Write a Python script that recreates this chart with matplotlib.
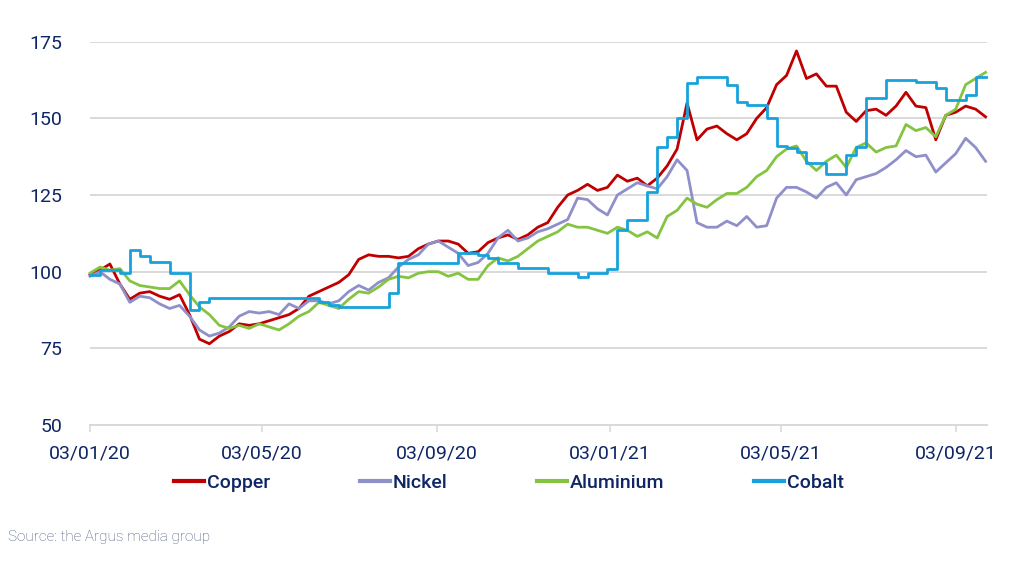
import numpy as np
import pandas as pd
import matplotlib
matplotlib.use("Agg")
import matplotlib.pyplot as plt
import matplotlib.dates as mdates

# ---- data (weekly readings, index 2020-01-03 = 100) ----
dates = pd.date_range("2020-01-03", periods=91, freq="7D")

copper = [99, 100.5, 102.5, 96, 91, 93, 93.5, 92, 91, 92.5,
          86, 78, 76.5, 79, 80.5, 83, 82.5, 83, 84, 85,
          86, 88, 92, 93.5, 95, 96.5, 99, 104, 105.5, 105,
          105, 104.5, 105, 107.5, 109, 110, 110, 109, 106, 106.5,
          109.5, 111, 112, 110.5, 112, 114.5, 116, 121, 125, 126.5,
          128.5, 126.5, 127.5, 131.5, 129.5, 130.5, 128, 130.5, 134.5, 140,
          155, 143, 146.5, 147.5, 145, 143, 145, 150, 153.5, 161,
          164, 172, 163, 164.5, 160.5, 160.5, 152, 149, 152.5, 153,
          151, 154, 158.5, 154, 153.5, 143, 151, 152, 154, 153,
          150.5]

nickel = [98.5, 100, 97.5, 96, 90, 92, 91.5, 89.5, 88, 89,
          85.5, 81, 79, 80, 82, 85.5, 87, 86.5, 87, 86,
          89.5, 88, 90.5, 90.5, 89.5, 90.5, 93.5, 95.5, 94, 96.5,
          98, 101.5, 104, 105.5, 109, 110, 108, 106, 102, 103,
          106, 111, 113.5, 110, 111, 113, 114, 115.5, 117, 124,
          123.5, 120.5, 118.5, 125, 127, 129, 128, 127, 131, 136.5,
          133, 116, 114.5, 114.5, 116.5, 115, 118, 114.5, 115, 124,
          127.5, 127.5, 126, 124, 127.5, 129, 125, 130, 131, 132,
          134, 136.5, 139.5, 137.5, 138, 132.5, 135.5, 138.5, 143.5, 140.5,
          136]

aluminium = [99.5, 101.5, 100.5, 101, 97, 95.5, 95, 94.5, 94.5, 97,
             92.5, 88.5, 86, 82.5, 81.5, 82.5, 81.5, 83, 82, 81,
             83, 85.5, 87, 90, 89, 88, 91, 93.5, 93, 95,
             97.5, 98.5, 98, 99.5, 100, 100, 98.5, 99.5, 97.5, 97.5,
             102, 104.5, 103.5, 105, 107.5, 110, 111.5, 113, 115.5, 114.5,
             114.5, 113.5, 112.5, 114.5, 113.5, 111.5, 113, 111, 118, 120,
             124, 122, 121, 123.5, 125.5, 125.5, 127.5, 131, 133, 137.5,
             140, 141, 136, 133, 136, 138, 134, 140.5, 142, 139,
             140.5, 141, 148, 146, 147, 144, 151, 153, 161, 163,
             165]

cobalt = [99, 100.5, 100.5, 99.5, 107, 105, 103, 103, 99.5, 99.5,
          87.5, 90, 91.4, 91.4, 91.4, 91.4, 91.4, 91.4, 91.4, 91.4,
          91.4, 91.4, 91.4, 90, 89, 88.5, 88.5, 88.5, 88.5, 88.5,
          93, 102.8, 102.8, 102.8, 102.8, 102.8, 102.8, 106, 106, 105.5,
          104.5, 102.8, 102.8, 101.2, 101.2, 101.2, 99.5, 99.5, 99.5, 98.4,
          99.5, 99.5, 101, 113.6, 117, 117, 126, 140.5, 144, 150,
          161.4, 163.6, 163.6, 163.6, 161, 155.4, 154.4, 154.4, 150, 141,
          140.3, 139, 135.4, 135.4, 132, 132, 138, 140.8, 156.6, 156.6,
          162.5, 162.5, 162.5, 162, 162, 160, 156, 156, 157.6, 163.6,
          163.6]

series_names = ["Copper", "Nickel", "Aluminium", "Cobalt"]
series_colors = ["#c00000", "#8f8fca", "#84c441", "#17a2dc"]

tick_dates = pd.to_datetime(["2020-01-03", "2020-05-03", "2020-09-03",
                             "2021-01-03", "2021-05-03", "2021-09-03"])
y_ticks = [50, 75, 100, 125, 150, 175]

# ---- figure ----
plt.rcParams["font.family"] = ["Roboto", "DejaVu Sans"]
navy = "#0f2665"

fig = plt.figure(figsize=(10.24, 5.66), dpi=100)
ax = fig.add_axes([90 / 1024, 1 - 425 / 566, 897 / 1024, (425 - 41.7) / 566])

values = [copper, nickel, aluminium, cobalt]
for name, vals, col in zip(series_names, values, series_colors):
    style = "steps-post" if name == "Cobalt" else "default"
    ax.plot(dates, vals, color=col, lw=2.0, label=name, drawstyle=style,
            solid_joinstyle="round", clip_on=False, zorder=3)

ax.set_ylim(50, 175)
ax.set_xlim(pd.Timestamp("2020-01-03"), pd.Timestamp("2021-09-25"))
ax.set_yticks(y_ticks)
ax.set_xticks(tick_dates)
ax.xaxis.set_major_formatter(mdates.DateFormatter("%d/%m/%y"))

ax.grid(axis="y", color="#d9d9d9", lw=1.4, zorder=0)
for s in ["top", "right", "left"]:
    ax.spines[s].set_visible(False)
ax.spines["bottom"].set_color("#d9d9d9")
ax.spines["bottom"].set_linewidth(1.4)
ax.tick_params(axis="y", length=0, pad=20, labelsize=14, labelcolor=navy)
ax.tick_params(axis="x", length=5, width=1.2, color="#d9d9d9", pad=9,
               labelsize=14, labelcolor=navy)

leg = fig.legend(loc="center", bbox_to_anchor=(509 / 1024, 1 - 483 / 566),
                 ncol=4, frameon=False, fontsize=14, handlelength=1.55,
                 handletextpad=0.15, columnspacing=4.6)
for t in leg.get_texts():
    t.set_color(navy)
    t.set_fontweight("medium")
for h in leg.get_lines():
    h.set_linewidth(3)

fig.text(8 / 1024, 1 - 537 / 566, "Source: the Argus media group",
         fontsize=11, color="#4a5a7e", fontweight="light", va="center")

fig.savefig("out.png", dpi=100)
